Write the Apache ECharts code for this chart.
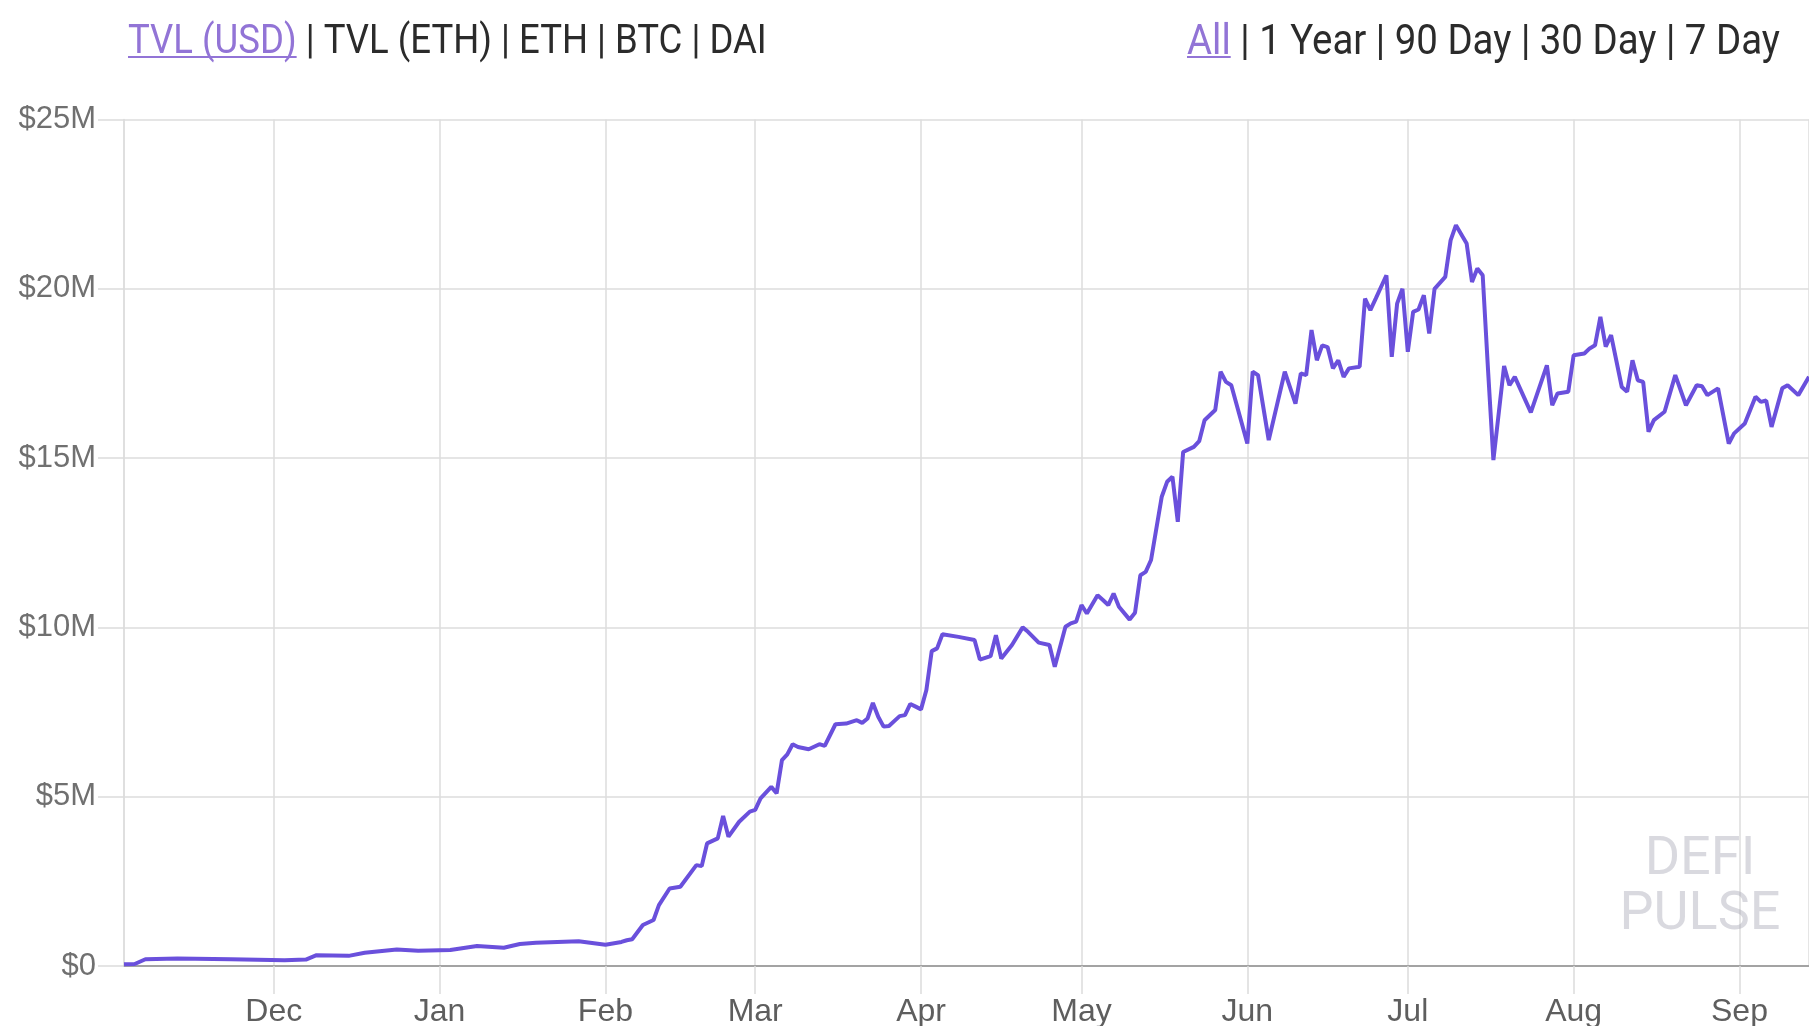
<!DOCTYPE html>
<html><head><meta charset="utf-8">
<script src="https://cdn.jsdelivr.net/npm/echarts@6/dist/echarts.min.js"></script>
<style>html,body{margin:0;padding:0;background:#fff;overflow:hidden}#c{width:1809px;height:1026px}</style>
</head><body><div id="c"></div>
<script>
// ---- data (TVL in USD millions) ----
const dates = [
'2018-11-03','2018-11-05','2018-11-07','2018-11-13','2018-11-23','2018-12-03','2018-12-07','2018-12-09','2018-12-15','2018-12-18',
'2018-12-24','2018-12-28','2019-01-03','2019-01-08','2019-01-13','2019-01-16','2019-01-19','2019-01-27','2019-02-01','2019-02-04',
'2019-02-05','2019-02-06','2019-02-08','2019-02-10','2019-02-11','2019-02-13','2019-02-15','2019-02-18','2019-02-19','2019-02-20',
'2019-02-22','2019-02-23','2019-02-24','2019-02-26','2019-02-28','2019-03-01','2019-03-02','2019-03-04','2019-03-05','2019-03-06',
'2019-03-07','2019-03-08','2019-03-09','2019-03-11','2019-03-13','2019-03-14','2019-03-16','2019-03-18','2019-03-20','2019-03-21',
'2019-03-22','2019-03-23','2019-03-24','2019-03-25','2019-03-26','2019-03-28','2019-03-29','2019-03-30','2019-03-31','2019-04-01',
'2019-04-02','2019-04-03','2019-04-04','2019-04-05','2019-04-08','2019-04-11','2019-04-12','2019-04-14','2019-04-15','2019-04-16',
'2019-04-18','2019-04-20','2019-04-21','2019-04-23','2019-04-25','2019-04-26','2019-04-28','2019-04-29','2019-04-30','2019-05-01',
'2019-05-02','2019-05-04','2019-05-05','2019-05-06','2019-05-07','2019-05-08','2019-05-10','2019-05-11','2019-05-12','2019-05-13',
'2019-05-14','2019-05-16','2019-05-17','2019-05-18','2019-05-19','2019-05-20','2019-05-22','2019-05-23','2019-05-24','2019-05-26',
'2019-05-27','2019-05-28','2019-05-29','2019-06-01','2019-06-02','2019-06-03','2019-06-05','2019-06-08','2019-06-10','2019-06-11',
'2019-06-12','2019-06-13','2019-06-14','2019-06-15','2019-06-16','2019-06-17','2019-06-18','2019-06-19','2019-06-20','2019-06-22',
'2019-06-23','2019-06-24','2019-06-25','2019-06-27','2019-06-28','2019-06-29','2019-06-30','2019-07-01','2019-07-02','2019-07-03',
'2019-07-04','2019-07-05','2019-07-06','2019-07-08','2019-07-09','2019-07-10','2019-07-12','2019-07-13','2019-07-14','2019-07-15',
'2019-07-16','2019-07-17','2019-07-19','2019-07-20','2019-07-21','2019-07-24','2019-07-27','2019-07-28','2019-07-29','2019-07-31',
'2019-08-01','2019-08-03','2019-08-04','2019-08-05','2019-08-06','2019-08-07','2019-08-08','2019-08-10','2019-08-11','2019-08-12',
'2019-08-13','2019-08-14','2019-08-15','2019-08-16','2019-08-18','2019-08-20','2019-08-22','2019-08-24','2019-08-25','2019-08-26',
'2019-08-28','2019-08-30','2019-08-31','2019-09-02','2019-09-04','2019-09-05','2019-09-06','2019-09-07','2019-09-09','2019-09-10',
'2019-09-12','2019-09-14'
];
const tvlMillions = [
0.05,0.06,0.20,0.22,0.20,0.17,0.19,0.32,0.30,0.39,
0.49,0.45,0.47,0.59,0.54,0.65,0.69,0.73,0.63,0.71,
0.76,0.79,1.21,1.36,1.80,2.29,2.34,2.98,2.95,3.62,
3.77,4.43,3.82,4.26,4.56,4.61,4.95,5.29,5.10,6.08,
6.25,6.55,6.47,6.40,6.55,6.50,7.14,7.16,7.26,7.18,
7.31,7.77,7.36,7.07,7.09,7.38,7.41,7.74,7.66,7.58,
8.15,9.30,9.38,9.80,9.72,9.63,9.05,9.15,9.77,9.08,
9.48,10.00,9.87,9.55,9.48,8.84,10.02,10.12,10.17,10.66,
10.41,10.95,10.81,10.66,11.00,10.61,10.23,10.43,11.54,11.64,
11.99,13.86,14.30,14.45,13.12,15.18,15.33,15.50,16.12,16.42,
17.55,17.25,17.15,15.43,17.55,17.45,15.53,17.55,16.61,17.50,
17.45,18.78,17.89,18.33,18.28,17.65,17.89,17.40,17.65,17.70,
19.71,19.37,19.71,20.40,17.99,19.56,20.00,18.14,19.32,19.39,
19.81,18.68,20.00,20.35,21.43,21.88,21.34,20.20,20.60,20.40,
17.60,14.94,17.72,17.15,17.40,16.35,17.74,16.56,16.91,16.96,
18.04,18.09,18.24,18.33,19.17,18.29,18.63,17.10,16.96,17.89,
17.30,17.25,15.78,16.12,16.37,17.45,16.56,17.15,17.12,16.86,
17.06,15.43,15.73,16.02,16.81,16.66,16.70,15.92,17.06,17.15,
16.86,17.40
];
const axisStart = '2018-11-03';
const axisEnd = '2019-09-14';
const monthNames = ['Jan','Feb','Mar','Apr','May','Jun','Jul','Aug','Sep','Oct','Nov','Dec'];
const leftTabs = ['TVL (USD)','TVL (ETH)','ETH','BTC','DAI'];
const rightTabs = ['All','1 Year','90 Day','30 Day','7 Day'];
const watermark = ['DEFI','PULSE'];

// ---- header tabs built with measured text widths ----
const mctx = document.createElement('canvas').getContext('2d');
const ACTIVE = '#9274d6', DARK = '#2b2b2b', HDR_Y = 43, HDR_SCALE_Y = 1.1;
function tabsWidth(tabs, size) {
  mctx.font = size + 'px Roboto';
  let w = 0;
  tabs.forEach((t, i) => { w += mctx.measureText(t).width + (i > 0 ? mctx.measureText(' | ').width : 0); });
  return w;
}
function buildTabs(tabs, startX, targetWidth) {
  const size = 36 * targetWidth / tabsWidth(tabs, 36);
  const font = size.toFixed(2) + 'px Roboto';
  mctx.font = font;
  const tw = s => mctx.measureText(s).width;
  const els = [];
  let x = startX;
  tabs.forEach((t, i) => {
    if (i > 0) {
      els.push({type:'text', x:x, y:HDR_Y, scaleY:HDR_SCALE_Y, style:{text:' | ', font:font, fill:DARK, align:'left', verticalAlign:'middle'}});
      x += tw(' | ');
    }
    const w = tw(t);
    els.push({type:'text', x:x, y:HDR_Y, scaleY:HDR_SCALE_Y, style:{text:t, font:font, fill: i === 0 ? ACTIVE : DARK, align:'left', verticalAlign:'middle'}});
    if (i === 0) {
      els.push({type:'line', shape:{x1:x, y1:HDR_Y+14, x2:x+w, y2:HDR_Y+14}, style:{stroke:ACTIVE, lineWidth:2}});
    }
    x += w;
  });
  return els;
}
const leftHdr = buildTabs(leftTabs, 128, 639);
const rightHdr = buildTabs(rightTabs, 1187, 593);

const chart = echarts.init(document.getElementById('c'), null, {renderer:'canvas'});
const GRID = '#dcdcdc';
chart.setOption({
  animation: false,
  backgroundColor: '#ffffff',
  grid: {left:124, right:0, top:119.5, bottom:60, containLabel:false, outerBoundsMode:'none'},
  xAxis: {
    type: 'time',
    min: axisStart, max: axisEnd,
    splitNumber: 10,
    minInterval: 28 * 86400000,
    maxInterval: 31 * 86400000,
    axisLine: {show:true, lineStyle:{color:'#a3a3a3', width:2}},
    axisTick: {show:true, length:28, lineStyle:{color:GRID, width:1.5}},
    splitLine: {show:true, lineStyle:{color:GRID, width:1.5}},
    minorTick: {show:false},
    axisLabel: {
      margin: 30, color:'#5e5e5e', fontSize:32, fontFamily:'Liberation Sans',
      formatter: v => monthNames[new Date(v).getMonth()]
    }
  },
  yAxis: {
    type: 'value', min:0, max:25, interval:5,
    axisLine: {show:true, lineStyle:{color:GRID, width:1.5}},
    axisTick: {show:true, length:26, lineStyle:{color:GRID, width:1.5}},
    splitLine: {show:true, lineStyle:{color:GRID, width:1.5}},
    axisLabel: {
      margin: 28, color:'#707070', fontSize:31, fontFamily:'Liberation Sans',
      formatter: v => v === 0 ? '$0' : '$' + v + 'M'
    }
  },
  series: [{
    type: 'line',
    data: dates.map((d, i) => [d, tvlMillions[i]]),
    showSymbol: false,
    smooth: false,
    lineStyle: {color:'#6a50dc', width:4},
    itemStyle: {color:'#6a50dc'},
    z: 5
  }],
  graphic: [
    ...leftHdr,
    ...rightHdr,
    {type:'text', x:1700, y:860, z:1, style:{text:watermark[0], font:'54px Roboto', fill:'rgba(165,165,178,0.42)', align:'center', verticalAlign:'middle'}},
    {type:'text', x:1700, y:915, z:1, style:{text:watermark[1], font:'54px Roboto', fill:'rgba(165,165,178,0.42)', align:'center', verticalAlign:'middle'}}
  ]
});
</script>
</body></html>
